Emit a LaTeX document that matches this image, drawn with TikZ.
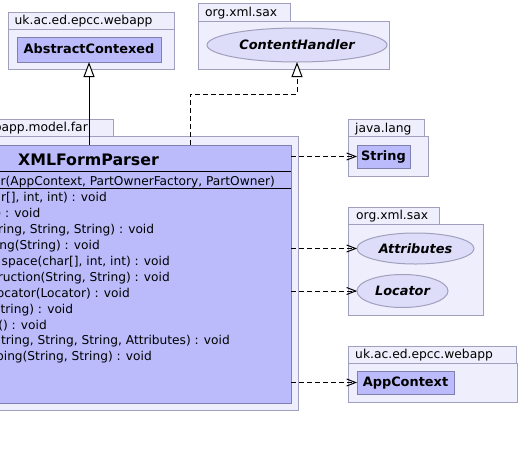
\documentclass[tikz,border=0pt]{standalone}
\usepackage{fontspec}
\setmainfont{DejaVu Sans}
\usetikzlibrary{shapes.geometric,arrows.meta}
\definecolor{pkgfill}{RGB}{238,238,252}
\definecolor{pkgline}{RGB}{160,160,190}
\definecolor{clsfill}{RGB}{187,187,252}
\definecolor{clsline}{RGB}{128,128,176}
\definecolor{ellfill}{RGB}{221,221,250}
\definecolor{ellline}{RGB}{160,160,190}
\begin{document}
\begin{tikzpicture}[x=1pt,y=-1pt,
  pkg/.style={draw=pkgline,fill=pkgfill,line width=1pt,anchor=north west,inner sep=0pt,outer sep=0pt},
  pkglabel/.style={anchor=base west,inner sep=0pt,font=\fontsize{12.3}{14}\selectfont},
  cls/.style={draw=clsline,fill=clsfill,line width=1pt,anchor=north west,inner sep=0pt,outer sep=0pt},
  clsname/.style={inner sep=0pt,font=\fontsize{12.9}{15}\selectfont\bfseries,text height=9.5pt,text depth=2.5pt},
  iface/.style={ellipse,draw=ellline,fill=ellfill,line width=1pt,inner sep=0pt,outer sep=0pt,font=\fontsize{12.9}{15}\selectfont\bfseries\itshape,text height=9.5pt,text depth=0.5pt},
  member/.style={anchor=base east,inner sep=0pt,font=\fontsize{12.2}{14}\selectfont},
  sepline/.style={line width=1pt,draw=black},
  inherit/.style={line width=1pt,-{Triangle[fill=white,length=15pt,width=11pt]}},
  realize/.style={inherit,dash pattern=on 5pt off 3pt},
  depend/.style={line width=1pt,dash pattern=on 5pt off 3pt,-{Straight Barb[length=9pt,width=7pt]}}
]
\useasboundingbox (0,0) rectangle (519,448);
\clip (0,0) rectangle (519,448);
\fill[white] (0,0) rectangle (519,448);

% package uk.ac.ed.epcc.webapp (top left)
\node[pkg,minimum width=166pt,minimum height=40pt] (p1body) at (8,29) {};
\node[pkg,minimum width=166pt,minimum height=17pt] (p1tab) at (8,12) {};
\node[pkglabel] (p1lab) at (14.5,24.5) {uk.ac.ed.epcc.webapp};
\node[cls,minimum width=144pt,minimum height=25pt] (acbox) at (17,37) {};
\node[clsname] (ac) at (acbox.center) {AbstractContexed};

% package org.xml.sax (top)
\node[pkg,minimum width=191pt,minimum height=48pt] (p2body) at (198,21) {};
\node[pkg,minimum width=92pt,minimum height=18pt] (p2tab) at (198,3) {};
\node[pkglabel] (p2lab) at (205,16.5) {org.xml.sax};
\node[iface,minimum width=180pt,minimum height=34pt] (ch) at (297,45) {ContentHandler};

% package ...webapp.model.far (clipped)
\node[pkg,minimum width=413pt,minimum height=274pt] (p3body) at (-115,136) {};
\node[pkg,minimum width=228pt,minimum height=17pt] (p3tab) at (-115,119) {};
\node[pkglabel,anchor=base east] (p3lab) at (88,131.8) {bapp.model.far};

% class XMLFormParser
\node[cls,minimum width=406pt,minimum height=258pt] (xfp) at (-115,145) {};
\node[inner sep=0pt,anchor=base,font=\fontsize{15.8}{18}\selectfont\bfseries] (title) at (88.5,165) {XMLFormParser};
\draw[sepline] (xfp.west |- 0,171) -- (xfp.east |- 0,171);
\draw[sepline] (xfp.west |- 0,188) -- (xfp.east |- 0,188);
\node[member] (ctor) at (275,185) {r(AppContext, PartOwnerFactory, PartOwner)};
\node[member] (m1) at (107,201.8) {ar[], int, int) : void};
\node[member] (m2) at (40.5,217.7) {) : void};
\node[member] (m3) at (154.3,233.6) {ring, String, String) : void};
\node[member] (m4) at (100,249.5) {ng(String) : void};
\node[member] (m5) at (170,265.4) {space(char[], int, int) : void};
\node[member] (m6) at (170,281.3) {ruction(String, String) : void};
\node[member] (m7) at (130,297.2) {ocator(Locator) : void};
\node[member] (m8) at (73.3,313.1) {String) : void};
\node[member] (m9) at (47,329) {() : void};
\node[member] (m10) at (230,344.9) {tring, String, String, Attributes) : void};
\node[member] (m11) at (152,360.8) {ping(String, String) : void};

% package java.lang
\node[pkg,minimum width=80pt,minimum height=40pt] (p4body) at (348,136) {};
\node[pkg,minimum width=76pt,minimum height=17pt] (p4tab) at (348,119) {};
\node[pkglabel] (p4lab) at (355,132) {java.lang};
\node[cls,minimum width=53pt,minimum height=23pt] (strbox) at (357,145) {};
\node[clsname] (str) at (strbox.center) {String};

% package org.xml.sax (right)
\node[pkg,minimum width=135pt,minimum height=91pt] (p5body) at (348,224) {};
\node[pkg,minimum width=91pt,minimum height=17pt] (p5tab) at (348,207) {};
\node[pkglabel] (p5lab) at (356,219.8) {org.xml.sax};
\node[iface,minimum width=117pt,minimum height=31pt] (attr) at (415.5,248.5) {Attributes};
\node[iface,minimum width=91pt,minimum height=33pt] (loc) at (402.5,291) {Locator};

% package uk.ac.ed.epcc.webapp (bottom right)
\node[pkg,minimum width=169pt,minimum height=39pt] (p6body) at (348,363) {};
\node[pkg,minimum width=168pt,minimum height=17pt] (p6tab) at (348,346) {};
\node[pkglabel] (p6lab) at (355,358.8) {uk.ac.ed.epcc.webapp};
\node[cls,minimum width=97pt,minimum height=23pt] (appbox) at (357,371) {};
\node[clsname] (app) at (appbox.center) {AppContext};

% connectors
\coordinate (bend) at (190,94);
\draw[inherit] (xfp.north -| acbox.south) -- (acbox.south);
\draw[realize] (xfp.north -| bend) -- (bend) -| (ch.south);
\draw[depend] (xfp.east |- strbox.west) -- (strbox.west);
\draw[depend] (xfp.east |- attr.west) -- (attr.west);
\draw[depend] (xfp.east |- loc.west) -- (loc.west);
\draw[depend] (xfp.east |- appbox.west) -- (appbox.west);
\end{tikzpicture}
\end{document}
